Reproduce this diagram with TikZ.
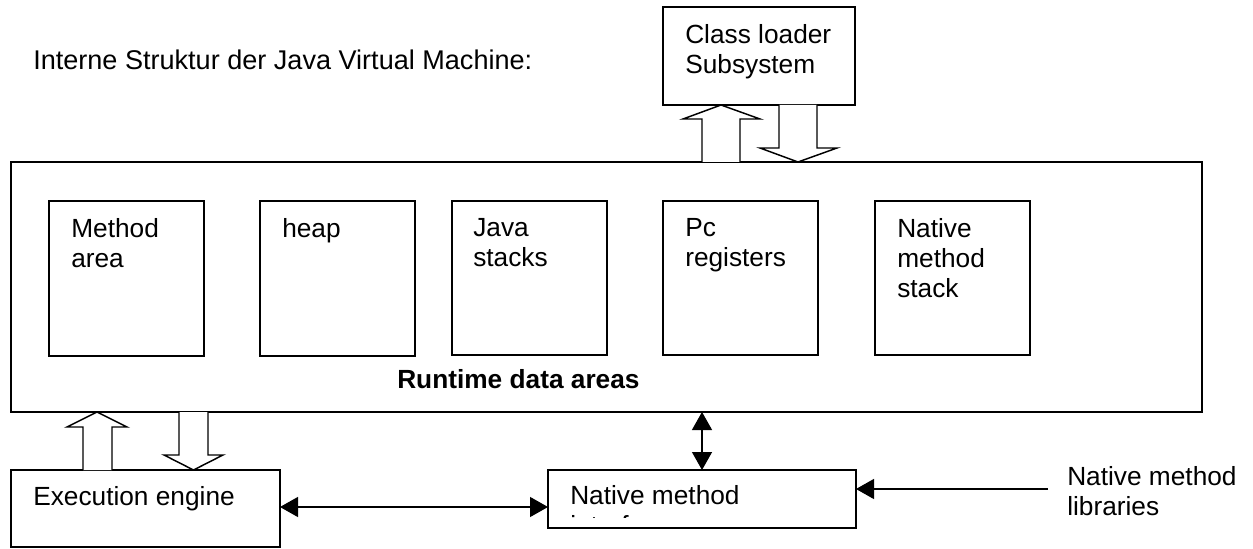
\documentclass[tikz,border=0pt]{standalone}
\usepackage{fontspec}
\setmainfont{Liberation Sans}
\usetikzlibrary{arrows.meta}
\begin{document}
\begin{tikzpicture}[x=0.75pt,y=-0.75pt,
  box/.style={draw, line width=1.1pt, inner sep=0pt, outer sep=0pt, anchor=north west},
  lbl/.style={font=\fontsize{19.7pt}{22.6pt}\selectfont, inner sep=0pt, align=left, anchor=north west},
  one/.style={font=\fontsize{19.7pt}{22.6pt}\selectfont, inner sep=0pt, anchor=base west},
  blk/.style={draw, line width=1.1pt, fill=white, line join=miter},
  con/.style={line width=1pt, -{Triangle[length=13.5pt,width=15pt]}},
  dcon/.style={line width=1pt, {Triangle[length=13.5pt,width=15pt]}-{Triangle[length=13.5pt,width=15pt]}}]
\useasboundingbox (0,0) rectangle (1253,549);

\node[one, font=\fontsize{20.3pt}{23pt}\selectfont] (title) at (33,70) {Interne Struktur der Java Virtual Machine:};

% boxes
\node[box, minimum width=192*0.75pt, minimum height=98*0.75pt] (cls) at (663,7) {};
\node[box, minimum width=1191*0.75pt, minimum height=250*0.75pt] (rt) at (11,162) {};
\node[box, minimum width=155*0.75pt, minimum height=155*0.75pt] (ma) at (49,201) {};
\node[box, minimum width=155*0.75pt, minimum height=155*0.75pt] (hp) at (260,201) {};
\node[box, minimum width=155*0.75pt, minimum height=154*0.75pt] (js) at (452,201) {};
\node[box, minimum width=155*0.75pt, minimum height=154*0.75pt] (pc) at (663,201) {};
\node[box, minimum width=155*0.75pt, minimum height=154*0.75pt] (nms) at (875,201) {};
\node[box, minimum width=269*0.75pt, minimum height=77*0.75pt] (exec) at (11,470) {};
\node[box, minimum width=308*0.75pt, minimum height=58*0.75pt] (nmi) at (548,470) {};

% texts
\node[lbl] (tcls) at (685,24) {Class loader\\Subsystem};
\node[lbl] (tma) at (71,218) {Method\\area};
\node[lbl] (thp) at (282,218) {heap};
\node[lbl] (tjs) at (473,218) {Java\\stacks};
\node[lbl] (tpc) at (685,218) {Pc\\registers};
\node[lbl] (tnms) at (897,218) {Native\\method\\stack};
\node[one, font=\bfseries\fontsize{19.7pt}{22.6pt}\selectfont] (trt) at (397,388) {Runtime data areas};
\node[one] (texec) at (33,505) {Execution engine};
\begin{scope}
  \clip (549,471) rectangle (855,517);
  \node[lbl] (tnmi) at (570,485) {Native method\\interface};
\end{scope}
\node[lbl] (tlib) at (1067,466) {Native method\\libraries};

% block arrows
\draw[blk] (702,162) -- (702,119) -- (683,119) -- (721,105) -- (760,119) -- (740,119) -- (740,162);
\draw[blk] (779,105) -- (779,148) -- (760,148) -- (798,162) -- (837,148) -- (817,148) -- (817,105);
\draw[blk] (83,470) -- (83,427) -- (67,427) -- (97,412) -- (127,427) -- (112,427) -- (112,470);
\draw[blk] (179,412) -- (179,455) -- (164,455) -- (193.5,470) -- (223,455) -- (208,455) -- (208,412);

% connectors
\draw[dcon] (rt.south -| 702,0) -- (nmi.north -| 702,0);
\draw[dcon] (exec.east |- 0,507) -- (nmi.west |- 0,507);
\coordinate (libend) at (1048,489);
\draw[con] (libend) -- (nmi.east |- libend);
\end{tikzpicture}
\end{document}
